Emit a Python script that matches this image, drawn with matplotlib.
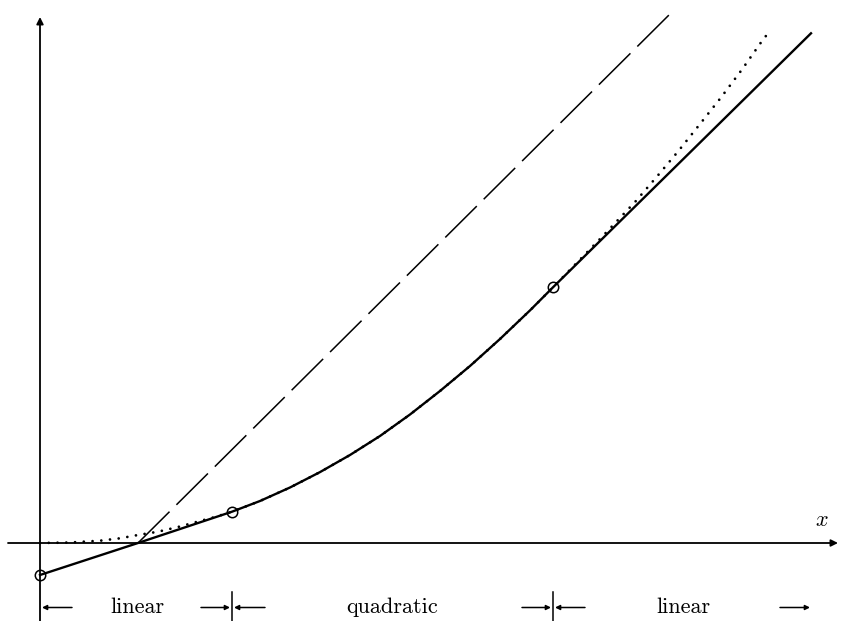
import matplotlib
matplotlib.use("Agg")
import matplotlib.pyplot as plt

plt.rcParams['mathtext.fontset'] = 'cm'
plt.rcParams['lines.scale_dashes'] = False

# piecewise approximation: linear / quadratic / linear
solid_x = [0.0, 0.98, 1.92, 2.20, 2.50, 2.80, 3.10, 3.40, 3.70, 4.00, 4.30, 4.60, 4.90, 5.13, 7.71]
solid_y = [-0.32, 0.0, 0.313, 0.420, 0.555, 0.709, 0.880, 1.07, 1.285, 1.52, 1.77, 2.04, 2.326, 2.557, 5.097]

# smooth curve (dotted)
dot_x = [0.0, 0.30, 0.60, 0.80, 0.98, 1.18, 1.38, 1.60, 1.75, 1.92, 2.20, 2.50, 2.80, 3.10, 3.40,
         3.70, 4.00, 4.30, 4.60, 4.90, 5.13, 5.60, 5.95, 6.17, 6.38, 6.60, 6.81, 7.02, 7.22, 7.28]
dot_y = [0.0, 0.005, 0.023, 0.047, 0.08, 0.113, 0.16, 0.22, 0.26, 0.313, 0.420, 0.555, 0.709, 0.880, 1.07,
         1.285, 1.52, 1.77, 2.04, 2.326, 2.557, 3.04, 3.41, 3.665, 3.915, 4.19, 4.455, 4.735, 5.02, 5.097]

# asymptote (dashed)
dash_x = [0.98, 6.33]
dash_y = [0.0, 5.32]

# knots marked with circles
knot_x = [0.0, 1.92, 5.13]
knot_y = [-0.32, 0.313, 2.557]

region_labels = ["linear", "quadratic", "linear"]
region_centers = [0.97, 3.52, 6.43]

fig = plt.figure(figsize=(8.43, 6.21), dpi=100)
ax = fig.add_axes([0, 0, 1, 1])
ax.set_xlim(-0.40, 8.03)
ax.set_ylim(-0.78, 5.43)
ax.axis('off')

arrow = dict(arrowstyle='-|>', color='k', lw=1.3, mutation_scale=10, shrinkA=0, shrinkB=0)

# coordinate axes
ax.annotate('', xy=(7.98, 0), xytext=(-0.32, 0), arrowprops=arrow)
ax.annotate('', xy=(0, 5.26), xytext=(0, -0.78), arrowprops=arrow)
ax.text(7.82, 0.13, '$x$', fontsize=16, ha='center', va='bottom')

ax.plot(dash_x, dash_y, color='k', lw=1.1, dashes=(32, 7))
ax.plot(dot_x, dot_y, color='k', lw=2.0, linestyle=(0, (0.01, 6.3)), dash_capstyle='round')
ax.plot(solid_x, solid_y, color='k', lw=1.7)
ax.plot(knot_x, knot_y, 'o', ms=7.5, mfc='none', mec='k', mew=1.1)

# region markers below the axis
for kx in knot_x[1:]:
    ax.plot([kx, kx], [-0.49, -0.78], color='k', lw=1.1)

arrow2 = dict(arrowstyle='-|>', color='k', lw=1.1, mutation_scale=7, shrinkA=0, shrinkB=0)
yy = -0.645
for start, end in [(0.32, 0.02), (1.61, 1.90), (2.25, 1.94),
                   (4.82, 5.11), (5.45, 5.15), (7.40, 7.70)]:
    ax.annotate('', xy=(end, yy), xytext=(start, yy), arrowprops=arrow2)

for lab, cx in zip(region_labels, region_centers):
    ax.text(cx, yy, lab, fontsize=16, family='cmr10', ha='center', va='center')

fig.savefig('out.png', dpi=100)
